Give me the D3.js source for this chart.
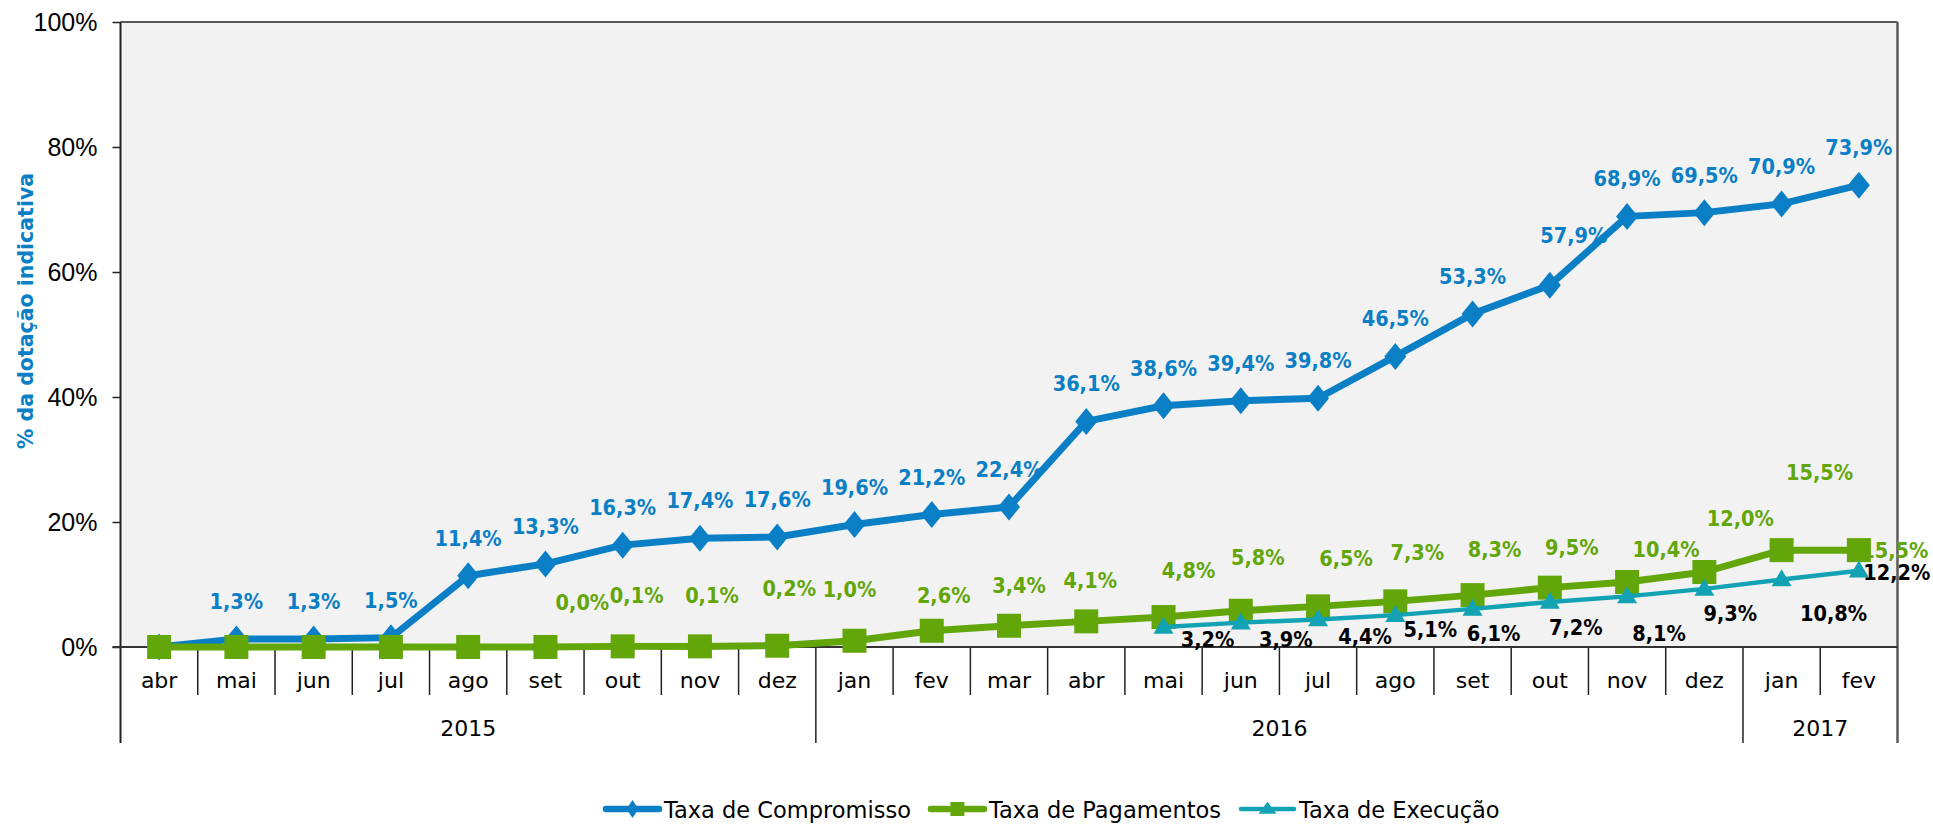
<!DOCTYPE html>
<html>
<head>
<meta charset="utf-8">
<script src="https://cdn.jsdelivr.net/npm/d3@7"></script>
<style>
  body { margin: 0; background: #fff; }
  svg { display: block; }
</style>
</head>
<body>
<div id="chart"></div>
<script>
// data
var months = ["abr","mai","jun","jul","ago","set","out","nov","dez",
              "jan","fev","mar","abr","mai","jun","jul","ago","set","out","nov","dez",
              "jan","fev"];
var years = ["2015", "2016", "2017"];
var yearMonths = [9, 12, 2];
var compromisso = [0.0, 1.3, 1.3, 1.5, 11.4, 13.3, 16.3, 17.4, 17.6,
                   19.6, 21.2, 22.4, 36.1, 38.6, 39.4, 39.8, 46.5, 53.3, 57.9, 68.9, 69.5,
                   70.9, 73.9];
var pagamentos = [0.0, 0.0, 0.0, 0.0, 0.0, 0.0, 0.1, 0.1, 0.2,
                  1.0, 2.6, 3.4, 4.1, 4.8, 5.8, 6.5, 7.3, 8.3, 9.5, 10.4, 12.0,
                  15.5, 15.5];
var execucao = [null, null, null, null, null, null, null, null, null,
                null, null, null, null, 3.2, 3.9, 4.4, 5.1, 6.1, 7.2, 8.1, 9.3,
                10.8, 12.2];
var yTicks = [0, 20, 40, 60, 80, 100];
var seriesNames = ["Taxa de Compromisso", "Taxa de Pagamentos", "Taxa de Execução"];

// first labelled point of each series
var labelFrom = [1, 5, 13];

// hand placed labels (as in the original), offset of the label from its point
var labelShift = [
  months.map(function(m, i) { return i == 18 ? [24, -42] : [0, -30]; }),
  [null, null, null, null, null, [37,-37], [14,-43], [12,-43], [12,-50],
   [-5,-44], [12,-28], [10,-33], [4,-33], [25,-39], [17,-46], [28,-40], [22,-41], [22,-38], [22,-33], [39,-25], [36,-46],
   [38,-70], [36,8]],
  [null, null, null, null, null, null, null, null, null,
   null, null, null, null, [44,20], [45,24], [47,24], [35,22], [21,32], [26,33], [32,45], [26,32],
   [52,41], [38,9]]
];

var colors = ["#0a7fc6", "#62a60a", "#12a2b4"];
var labelColors = ["#0a7fc6", "#62a60a", "#000000"];

var W = 1933, H = 824;
var margin = {top: 22, right: 35.5, bottom: 177, left: 120.5};
var width = W - margin.left - margin.right,
    height = H - margin.top - margin.bottom;

var svg = d3.select("#chart").append("svg")
    .attr("width", W)
    .attr("height", H);

var g = svg.append("g")
    .attr("transform", "translate(" + margin.left + "," + margin.top + ")");

var x = d3.scaleBand()
    .domain(d3.range(months.length))
    .range([0, width])
    .padding(0);

var y = d3.scaleLinear()
    .domain([0, 100])
    .range([height, 0]);

var xc = function(i) { return x(i) + x.bandwidth() / 2; };

// plot background
g.append("rect")
    .attr("x", 0).attr("y", 0)
    .attr("width", width).attr("height", height)
    .attr("fill", "#f2f2f2");

// top and right borders of the plot area
g.append("line")
    .attr("x1", 0).attr("x2", width).attr("y1", 0).attr("y2", 0)
    .attr("stroke", "#5a5a5a").attr("stroke-width", 2);

// y axis
var yAxis = g.append("g")
    .call(d3.axisLeft(y).tickValues(yTicks).tickSize(8).tickPadding(15)
          .tickFormat(function(d) { return d + "%"; }));
yAxis.select(".domain").remove();
yAxis.selectAll(".tick line").attr("stroke", "#222").attr("stroke-width", 1.5);
yAxis.selectAll("text")
    .attr("font-family", "'Liberation Sans Narrow', 'Liberation Sans', sans-serif")
    .attr("font-stretch", "condensed")
    .attr("font-size", 25)
    .attr("fill", "#000");

// y axis title
svg.append("text")
    .attr("transform", "translate(26," + (margin.top + 289) + ") rotate(-90)")
    .attr("text-anchor", "middle")
    .attr("dominant-baseline", "central")
    .attr("font-family", "'DejaVu Sans', sans-serif")
    .attr("font-weight", "bold")
    .attr("font-size", 20.5)
    .attr("fill", colors[0])
    .text("% da dotação indicativa");

// category axis: month labels
var xAxis = g.append("g")
    .attr("transform", "translate(0," + height + ")")
    .call(d3.axisBottom(x).tickSize(0).tickPadding(0)
          .tickFormat(function(i) { return months[i]; }));
xAxis.select(".domain").remove();
xAxis.selectAll("text")
    .attr("y", 41)
    .attr("dy", null)
    .attr("font-family", "'DejaVu Sans', sans-serif")
    .attr("font-size", 22)
    .attr("fill", "#000");

// month separators and year separators
var yearStart = [0];
yearMonths.forEach(function(n, k) { yearStart.push(yearStart[k] + n); });

d3.range(1, months.length).forEach(function(i) {
  var isYear = yearStart.indexOf(i) >= 0;
  g.append("line")
      .attr("x1", x(i)).attr("x2", x(i))
      .attr("y1", height).attr("y2", height + (isYear ? 96 : 48))
      .attr("stroke", "#222").attr("stroke-width", 1.5);
});

// left axis line, down through the category rows
g.append("line")
    .attr("x1", 0).attr("x2", 0)
    .attr("y1", 0).attr("y2", height + 96)
    .attr("stroke", "#222").attr("stroke-width", 2);
// right border
g.append("line")
    .attr("x1", width).attr("x2", width)
    .attr("y1", 0).attr("y2", height + 96)
    .attr("stroke", "#5a5a5a").attr("stroke-width", 2.5);
// 0% line
g.append("line")
    .attr("x1", -8).attr("x2", width)
    .attr("y1", y(0)).attr("y2", y(0))
    .attr("stroke", "#333").attr("stroke-width", 2);

// year labels
years.forEach(function(yr, k) {
  var a = x(yearStart[k]);
  var b = yearStart[k + 1] < months.length ? x(yearStart[k + 1]) : width;
  g.append("text")
      .attr("x", (a + b) / 2)
      .attr("y", height + 89)
      .attr("text-anchor", "middle")
      .attr("font-family", "'DejaVu Sans', sans-serif")
      .attr("font-size", 22)
      .attr("fill", "#000")
      .text(yr);
});

var allSeries = [compromisso, pagamentos, execucao];

// data labels (underneath the lines, as in the original)
allSeries.forEach(function(vals, s) {
  vals.forEach(function(v, i) {
    if (v == null || i < labelFrom[s]) return;
    var sh = labelShift[s][i];
    g.append("text")
        .attr("x", xc(i) + sh[0])
        .attr("y", y(v) + sh[1])
        .attr("text-anchor", "middle")
        .attr("font-family", "'DejaVu Sans Condensed', 'DejaVu Sans', sans-serif")
        .attr("font-weight", "bold")
        .attr("font-size", 21.5)
        .attr("fill", labelColors[s])
        .text(d3.format(".1f")(v).replace(".", ",") + "%");
  });
});

// markers
var diamond = function(w, h) { return "M0," + (-h) + "L" + w + ",0L0," + h + "L" + (-w) + ",0Z"; };
var square = function(a) { return "M" + (-a) + "," + (-a) + "h" + 2 * a + "v" + 2 * a + "h" + (-2 * a) + "Z"; };
var triangle = function(w, h) { return "M0," + (-h * 0.6) + "L" + w + "," + (h * 0.4) + "L" + (-w) + "," + (h * 0.4) + "Z"; };
var markerPaths = [diamond(11, 13.5), square(12), triangle(10, 17)];
var lineWidths = [7, 7, 4.5];

allSeries.forEach(function(vals, s) {
  var pts = vals.map(function(v, i) { return {i: i, v: v}; })
                .filter(function(d) { return d.v != null; });
  var line = d3.line()
      .x(function(d) { return xc(d.i); })
      .y(function(d) { return y(d.v); });
  var sg = g.append("g");
  sg.append("path")
      .datum(pts)
      .attr("d", line)
      .attr("fill", "none")
      .attr("stroke", colors[s])
      .attr("stroke-width", lineWidths[s])
      .attr("stroke-linejoin", "round");
  sg.selectAll("path.mk")
      .data(pts)
      .enter().append("path")
      .attr("class", "mk")
      .attr("transform", function(d) { return "translate(" + xc(d.i) + "," + y(d.v) + ")"; })
      .attr("d", markerPaths[s])
      .attr("fill", colors[s]);
});

// legend
var legendMarks = [diamond(6, 9), square(7), triangle(9, 12)];
var lx = 603, ly = 809;
seriesNames.forEach(function(name, s) {
  var lg = svg.append("g").attr("transform", "translate(" + lx + "," + ly + ")");
  lg.append("line")
      .attr("x1", 3).attr("x2", 56).attr("y1", 0).attr("y2", 0)
      .attr("stroke", colors[s])
      .attr("stroke-width", s == 2 ? 4.5 : 6.5)
      .attr("stroke-linecap", "round");
  lg.append("path")
      .attr("transform", "translate(29.5,0)")
      .attr("d", legendMarks[s])
      .attr("fill", colors[s]);
  var t = lg.append("text")
      .attr("x", 61)
      .attr("y", 9)
      .attr("font-family", "'DejaVu Sans', sans-serif")
      .attr("font-size", 22.5)
      .attr("fill", "#000")
      .text(name);
  lx += 61 + t.node().getComputedTextLength() + 17;
});
</script>
</body>
</html>
